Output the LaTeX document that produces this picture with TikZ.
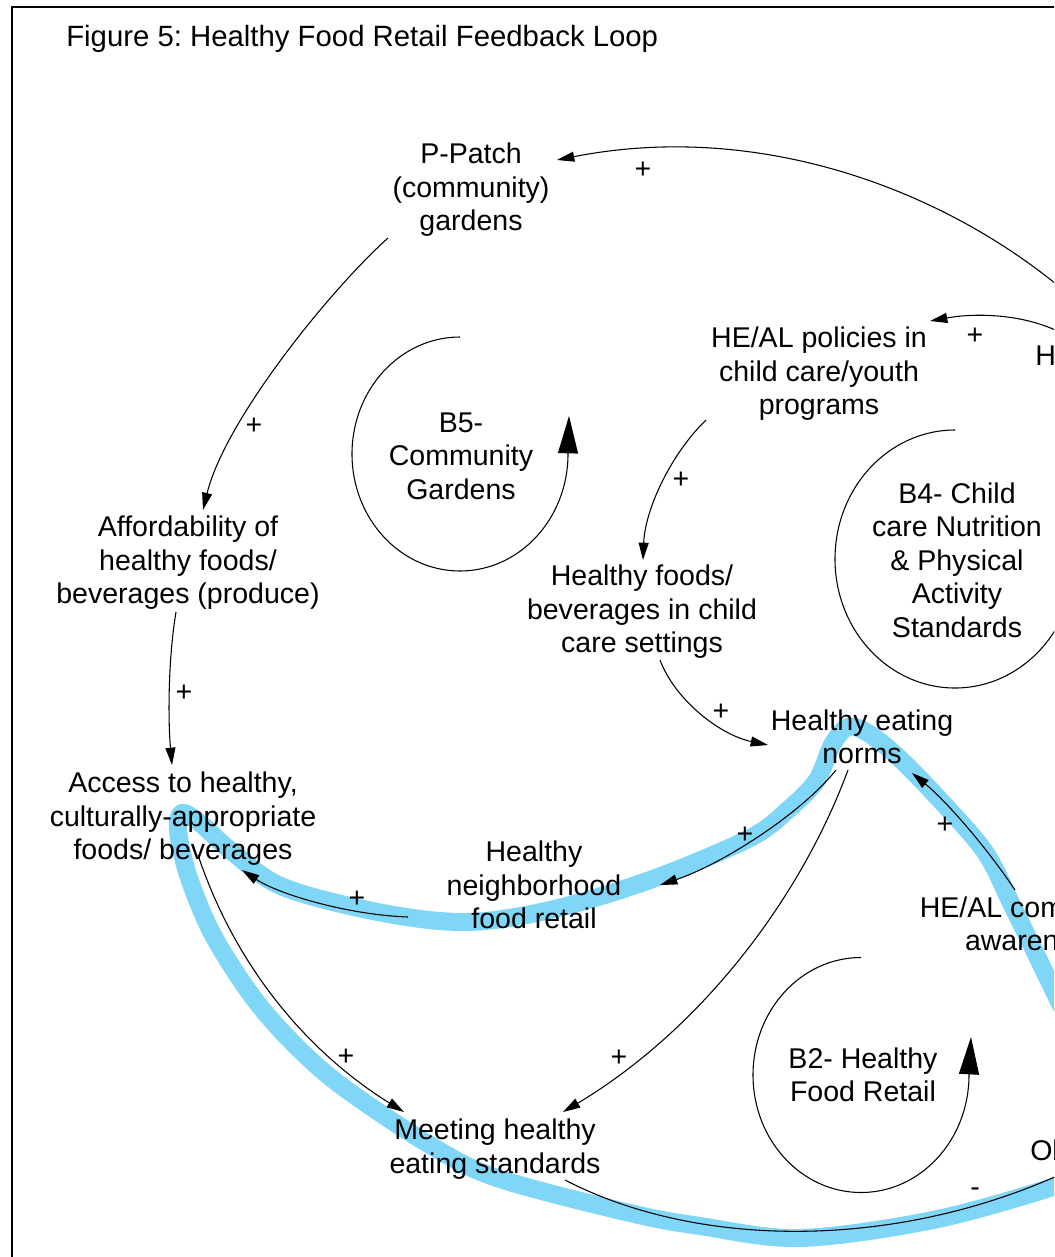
\documentclass[tikz,border=0pt]{standalone}
\usepackage{fontspec}
\setmainfont{Liberation Sans}
\usetikzlibrary{arrows.meta}
\definecolor{loopblue}{RGB}{128,214,246}
\frenchspacing
\begin{document}
\begin{tikzpicture}[x=0.75pt,y=-0.75pt,
  lbl/.style={align=center, font=\fontsize{21.4}{25.1}\selectfont, inner sep=0pt},
  sign/.style={font=\fontsize{21.4}{25.1}\selectfont, inner sep=0pt},
  link/.style={line width=0.8pt, -{Triangle[length=13pt,width=7.5pt]}},
  plainlink/.style={line width=0.8pt},
  looptip/.style={line width=0.8pt, -{Triangle[length=28pt,width=15pt]}},
  band/.style={loopblue, line width=13.5pt, line cap=round, line join=round}]
\useasboundingbox (0,0) rectangle (1054,1257);
\clip (0,0) rectangle (1054,1257);
\fill[white] (0,0) rectangle (1054,1257);
% frame
\draw[line width=2.2pt] (12,7) rectangle (1200,1400);

% highlighted loop
\draw[band] plot[smooth, tension=0.55] coordinates {
  (1080,1045) (1050,983) (1012,905) (985,852) (940,800) (898,757) (868,733)
  (848,727) (832,745) (817,780) (790,808) (750,838) (650,880) (550,910)
  (467,922) (383,913) (283,887) (230,850) (200,823) (182,813) (178,830)
  (188,875) (213,935) (255,1000) (300,1050) (347,1090) (430,1145) (497,1178)
  (630,1213) (700,1226) (800,1238) (933,1220) (1053,1187) (1090,1170)};

% title
\node[anchor=base west, inner sep=0pt, font=\fontsize{22}{26}\selectfont] (title) at (66,46)
  {Figure 5: Healthy Food Retail Feedback Loop};

% variables
\node[lbl] (pp) at (471,190) {P-Patch\\(community)\\gardens};
\node[lbl] (heal) at (819,374) {HE/AL policies in\\child care/youth\\programs};
\node[lbl] (afford) at (188,563) {Affordability of\\healthy foods/\\beverages (produce)};
\node[lbl] (hfcc) at (642,612) {Healthy foods/\\beverages in child\\care settings};
\node[lbl] (hen) at (862,737) {Healthy eating\\norms};
\node[lbl] (access) at (183,819) {Access to healthy,\\culturally-appropriate\\foods/ beverages};
\node[lbl] (hnfr) at (534,885) {Healthy\\neighborhood\\food retail};
\node[lbl] (meet) at (495,1149) {Meeting healthy\\eating standards};
\node[lbl] (comm) at (1034,924) {HE/AL community\\awareness};
\node[lbl, anchor=base west] (hx) at (1035,365) {H};
\node[lbl, anchor=base west] (ob) at (1030,1160) {Obesity};

% loop labels
\node[lbl] (b5t) at (461,456) {B5-\\Community\\Gardens};
\node[lbl] (b4t) at (957,560) {B4- Child\\care Nutrition\\\& Physical\\Activity\\Standards};
\node[lbl] (b2t) at (863,1075) {B2- Healthy\\Food Retail};

% loop symbols
\draw[looptip] (460,337) arc[start angle=-90, end angle=-360, x radius=108, y radius=117] -- (569,416);
\draw[looptip] (861,957.5) arc[start angle=-90, end angle=-360, x radius=108, y radius=117.5] -- (971,1037);
\draw[plainlink] (955,430) arc[start angle=-90, end angle=-360, x radius=120, y radius=129];

% free ends beyond the frame edge
\coordinate (e1) at (1075,300);
\coordinate (e2) at (1065,335);
\coordinate (e12) at (1070,1170);

% causal links
\draw[link] (e1) .. controls (950,190) and (760,120) .. ([shift={(86,-30)}]pp.center);
\draw[link] (e2) .. controls (1030,315) and (980,312) .. ([shift={(111,-53)}]heal.center);
\draw[link] ([shift={(-83,48)}]pp.center) .. controls (330,290) and (225,420) .. ([shift={(15,-53)}]afford.center);
\draw[link] ([shift={(-12,49)}]afford.center) .. controls (168,660) and (168,720) .. ([shift={(-11,-54)}]access.center);
\draw[link] ([shift={(-113,46)}]heal.center) .. controls (670,455) and (645,510) .. ([shift={(1,-52)}]hfcc.center);
\draw[link] ([shift={(18,48)}]hfcc.center) .. controls (675,700) and (720,735) .. ([shift={(-94,8)}]hen.center);
\draw[link] ([shift={(-26,33)}]hen.center) .. controls (800,815) and (720,865) .. ([shift={(126,0)}]hnfr.center);
\draw[link] ([shift={(-126,32)}]hnfr.center) .. controls (350,915) and (280,895) .. ([shift={(59,51)}]access.center);
\draw[link] ([shift={(15,36)}]access.center) .. controls (240,980) and (320,1060) .. ([shift={(-91,-37)}]meet.center);
\draw[link] ([shift={(-14,33)}]hen.center) .. controls (800,900) and (700,1030) .. ([shift={(68,-37)}]meet.center);
\draw[link] ([shift={(-19,-34)}]comm.center) .. controls (985,845) and (945,800) .. ([shift={(50,36)}]hen.center);
\draw[plainlink] ([shift={(70,31)}]meet.center) .. controls (700,1250) and (900,1250) .. (e12);

% link polarities
\node[sign] (s1) at (643,170) {+};
\node[sign] (s2) at (975,336) {+};
\node[sign] (s3) at (254,426) {+};
\node[sign] (s4) at (184,693) {+};
\node[sign] (s5) at (681,480) {+};
\node[sign] (s6) at (721,712) {+};
\node[sign] (s7) at (745,835) {+};
\node[sign] (s8) at (357,899) {+};
\node[sign] (s9) at (945,825) {+};
\node[sign] (s10) at (346,1057) {+};
\node[sign] (s11) at (619,1058) {+};
\node[sign] (s12) at (975,1192) {-};
\end{tikzpicture}
\end{document}
